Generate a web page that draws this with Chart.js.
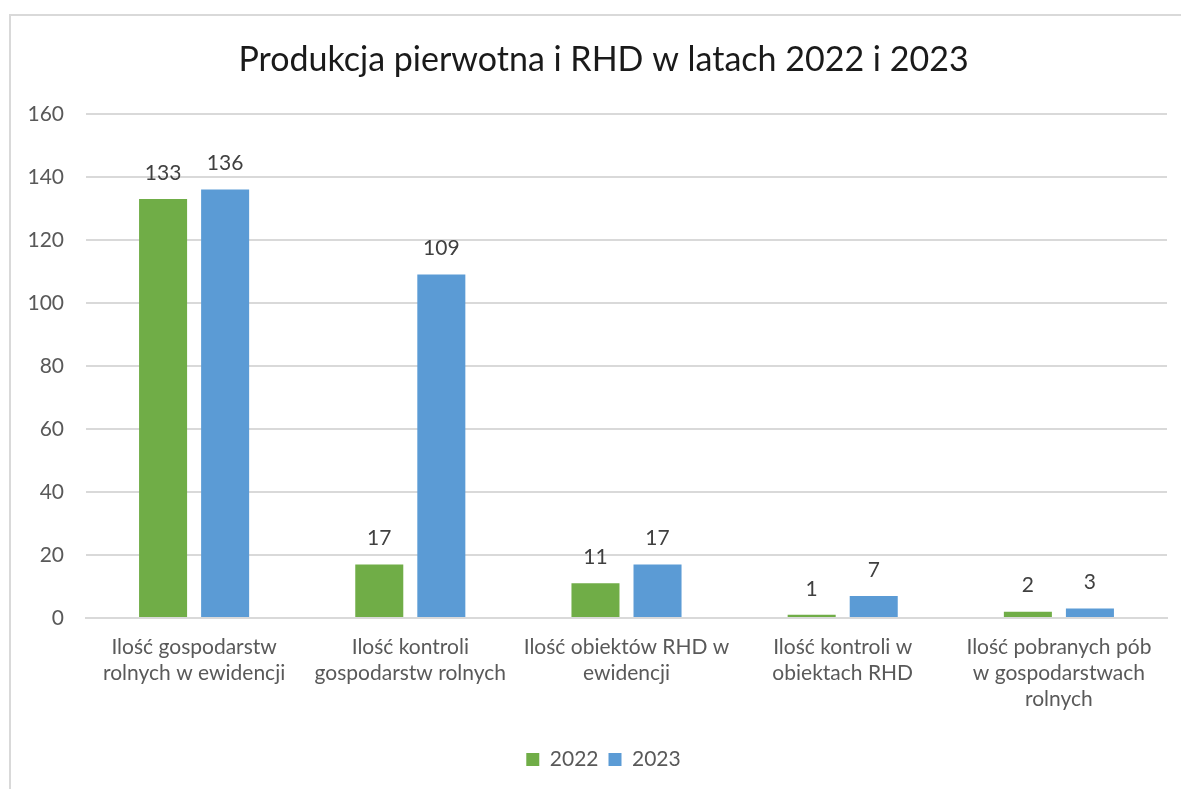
<!DOCTYPE html>
<html>
<head>
<meta charset="utf-8">
<script src="https://cdn.jsdelivr.net/npm/chart.js@4/dist/chart.umd.min.js"></script>
<style>
  html, body { margin: 0; padding: 0; background: #fff; overflow: hidden; }
  #frame { position: absolute; left: 9px; top: 14px; width: 1300px; height: 900px; border: 2px solid #d9d9d9; }
  #wrap { position: absolute; left: 0; top: 0; width: 1181px; height: 789px; }
</style>
</head>
<body>
<div id="frame"></div>
<div id="wrap"><canvas id="chart" width="1181" height="789"></canvas></div>
<script>
const categories = [
  ["Ilość gospodarstw", "rolnych w ewidencji"],
  ["Ilość kontroli", "gospodarstw rolnych"],
  ["Ilość obiektów RHD w", "ewidencji"],
  ["Ilość kontroli w", "obiektach RHD"],
  ["Ilość pobranych pób", "w gospodarstwach", "rolnych"]
];
const values2022 = [133, 17, 11, 1, 2];
const values2023 = [136, 109, 17, 7, 3];
const yTicks = [0, 20, 40, 60, 80, 100, 120, 140, 160];

const FONT = "Lato, 'Open Sans', sans-serif";

// simple value labels above the bars
const barLabels = {
  id: "barLabels",
  afterDatasetsDraw(chart) {
    const ctx = chart.ctx;
    ctx.save();
    ctx.font = "21px " + FONT;
    ctx.fillStyle = "#404040";
    ctx.textAlign = "center";
    ctx.textBaseline = "middle";
    chart.data.datasets.forEach((ds, i) => {
      chart.getDatasetMeta(i).data.forEach((bar, j) => {
        ctx.fillText(String(ds.data[j]), bar.x, bar.y - 26);
      });
    });
    ctx.restore();
  }
};

// the left padding only serves to centre title/legend; let y labels use that room
const widenY = {
  id: "widenY",
  afterLayout(chart) { chart.scales.y.left = 0; }
};

new Chart(document.getElementById("chart"), {
  type: "bar",
  data: {
    labels: categories,
    datasets: [
      { label: "2022", data: values2022, backgroundColor: "#70ad47" },
      { label: "2023", data: values2023, backgroundColor: "#5b9bd5" }
    ]
  },
  options: {
    responsive: false,
    animation: false,
    devicePixelRatio: 1,
    layout: { padding: { left: 40, right: 14, top: 0, bottom: 9 } },
    datasets: {
      bar: { categoryPercentage: 0.574, barPercentage: 0.774 }
    },
    plugins: {
      title: {
        display: true,
        text: "Produkcja pierwotna i RHD w latach 2022 i 2023",
        color: "#1a1a1a",
        font: { family: FONT, size: 34, weight: "normal" },
        padding: { top: 40, bottom: 33 }
      },
      legend: {
        position: "bottom",
        labels: {
          color: "#595959",
          font: { family: FONT, size: 21 },
          boxWidth: 13,
          boxHeight: 13,
          padding: 10
        }
      },
      tooltip: { enabled: false }
    },
    scales: {
      x: {
        grid: { display: false },
        border: { color: "#d9d9d9", width: 2 },
        ticks: {
          color: "#595959",
          font: { family: FONT, size: 21, lineHeight: 1.24 },
          padding: 8,
          maxRotation: 0,
          autoSkip: false
        },
        afterFit(scale) { scale.height = 121; }
      },
      y: {
        min: 0,
        max: 160,
        afterBuildTicks(scale) { scale.ticks = yTicks.map(v => ({ value: v })); },
        grid: { color: "#d9d9d9", lineWidth: 2, drawTicks: false },
        border: { display: false },
        ticks: {
          color: "#595959",
          font: { family: FONT, size: 21 },
          padding: 22
        },
        afterFit(scale) { scale.width = 46; }
      }
    }
  },
  plugins: [barLabels, widenY]
});
</script>
</body>
</html>
